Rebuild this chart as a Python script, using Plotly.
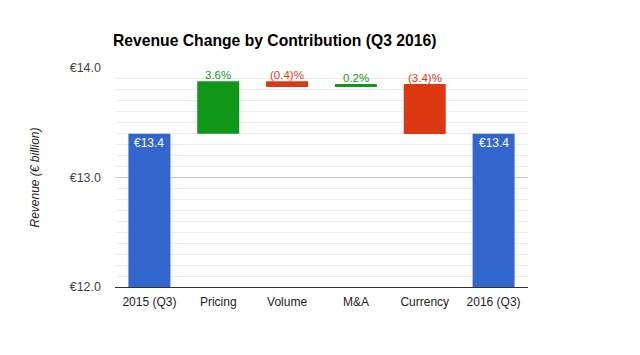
import plotly.graph_objects as go

categories = ["2015 (Q3)", "Pricing", "Volume", "M&A", "Currency", "2016 (Q3)"]
measures = ["absolute", "relative", "relative", "relative", "relative", "absolute"]
values = [13.4, 0.48, -0.054, 0.027, -0.456, 13.4]
labels = ["€13.4", "3.6%", "(0.4)%", "0.2%", "(3.4)%", "€13.4"]
y_ticks = [12.0, 13.0, 14.0]
y_tick_labels = ["€12.0", "€13.0", "€14.0"]

BLUE = "#3366CC"
GREEN = "#109618"
RED = "#DC3912"

bases, lengths, colors, tops = [], [], [], []
running = 0.0
for m, v in zip(measures, values):
    if m == "absolute":
        bases.append(12.0)
        lengths.append(v - 12.0)
        colors.append(BLUE)
        running = v
        tops.append(v)
    else:
        start = running
        end = running + v
        bases.append(min(start, end))
        lengths.append(abs(v))
        colors.append(GREEN if v >= 0 else RED)
        tops.append(max(start, end))
        running = end

fig = go.Figure()
fig.add_trace(go.Bar(
    x=categories, y=lengths, base=bases,
    marker=dict(color=colors, line=dict(width=0)),
    width=0.61, hoverinfo="skip",
))

for c, m, t, lab, col in zip(categories, measures, tops, labels, colors):
    if m == "absolute":
        fig.add_annotation(x=c, y=t, text=lab, showarrow=False, yanchor="top",
                           yshift=0, font=dict(color="white", size=12,
                           family="Liberation Sans, Arial, sans-serif"))
    else:
        fig.add_annotation(x=c, y=t, text=lab, showarrow=False, yanchor="bottom",
                           yshift=-2, font=dict(color=col, size=11.5,
                           family="Liberation Sans, Arial, sans-serif"))

fig.update_layout(
    width=640, height=355,
    margin=dict(l=107, r=120, t=60, b=76),
    paper_bgcolor="white", plot_bgcolor="white",
    showlegend=False,
    font=dict(family="Liberation Sans, Arial, sans-serif", size=12, color="#444"),
    title=dict(text="<b>Revenue Change by Contribution (Q3 2016)</b>",
               x=105 / 640, xanchor="left", y=1 - 33 / 355, yanchor="middle",
               font=dict(size=15.7, color="#000")),
    bargap=0.39,
)
fig.update_xaxes(showgrid=False, showline=True, linecolor="#333", linewidth=1,
                 ticks="", ticklabelstandoff=4, tickfont=dict(size=12, color="#222"))
fig.update_yaxes(range=[12.0, 14.0], tickvals=y_ticks, ticktext=y_tick_labels,
                 showgrid=True, gridcolor="#cccccc", zeroline=False,
                 tickfont=dict(size=12.5, color="#444"), ticks="", ticklabelstandoff=13,
                 minor=dict(dtick=0.1, tick0=12.0, showgrid=True, gridcolor="#ebebeb"),
                 title=dict(text="<i>Revenue (€ billion)</i>", standoff=27,
                            font=dict(size=12, color="#222")))

fig.write_html("out.html")
